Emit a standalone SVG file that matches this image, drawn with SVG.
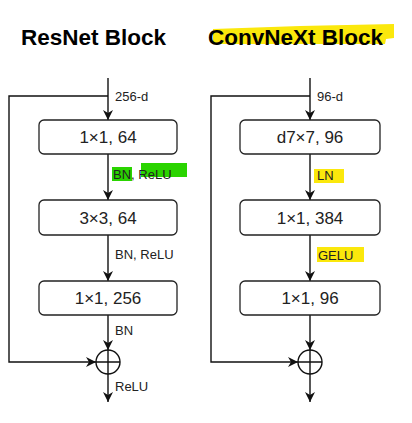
<svg xmlns="http://www.w3.org/2000/svg" width="412" height="423" viewBox="0 0 412 423">
<style>
.title{font-family:"Liberation Sans",Arial,sans-serif;font-weight:bold;font-size:22.5px;fill:#000}
.box{fill:#fff;stroke:#222;stroke-width:1.3}
.bt{font-family:"Liberation Sans",Arial,sans-serif;font-size:17px;fill:#222;text-anchor:middle;dominant-baseline:central}
.lb{font-family:"Liberation Sans",Arial,sans-serif;font-size:13px;fill:#222;dominant-baseline:central}
.ln{fill:none;stroke:#111;stroke-width:1.4}
</style>
<defs>
<marker id="arr" viewBox="0 0 10 10" refX="10" refY="5" markerWidth="10" markerHeight="10" markerUnits="userSpaceOnUse" orient="auto">
<path d="M0,0 L10,5 L0,10 L3,5 z" fill="#111"/>
</marker>
</defs>
<rect width="412" height="423" fill="#fff"/>
<g id="highlights">
<polygon points="213,29 300,26 394,24 394,38 386,39 385,44 213,44" fill="#fbe80c"/>
<rect x="112" y="167" width="20" height="14" fill="#2ad400"/>
<rect x="141" y="163" width="46" height="14" fill="#2ad400"/>
<rect x="314" y="169" width="30" height="14" fill="#fbe80c"/>
<rect x="317" y="247" width="47" height="15" fill="#fbe80c"/>
</g>
<g id="titles">
<text class="title" x="21" y="45">ResNet Block</text>
<text class="title" x="208" y="45">ConvNeXt Block</text>
</g>
<g id="connectors">
<path class="ln" d="M108,78 V120" marker-end="url(#arr)"/>
<path class="ln" d="M108,96 H9 V362 H96" marker-end="url(#arr)"/>
<path class="ln" d="M108,154 V200" marker-end="url(#arr)"/>
<path class="ln" d="M108,235 V281" marker-end="url(#arr)"/>
<path class="ln" d="M108,315 V350" marker-end="url(#arr)"/>
<path class="ln" d="M108,374 V402" marker-end="url(#arr)"/>
<path class="ln" d="M310,78 V120" marker-end="url(#arr)"/>
<path class="ln" d="M310,96 H211 V362 H298" marker-end="url(#arr)"/>
<path class="ln" d="M310,154 V200" marker-end="url(#arr)"/>
<path class="ln" d="M310,235 V281" marker-end="url(#arr)"/>
<path class="ln" d="M310,315 V350" marker-end="url(#arr)"/>
<path class="ln" d="M310,374 V402" marker-end="url(#arr)"/>
</g>
<g id="labels">
<text class="lb" x="115" y="96">256-d</text>
<text class="lb" x="113" y="174">BN, ReLU</text>
<text class="lb" x="115" y="254">BN, ReLU</text>
<text class="lb" x="115" y="330">BN</text>
<text class="lb" x="115" y="386">ReLU</text>
<text class="lb" x="317" y="96">96-d</text>
<text class="lb" x="317" y="175">LN</text>
<text class="lb" x="318" y="255">GELU</text>
</g>
<g id="r1"><rect class="box" x="39" y="120" width="138" height="34" rx="5"/><text class="bt" x="108" y="137">1×1, 64</text></g>
<g id="r2"><rect class="box" x="39" y="200" width="138" height="35" rx="5"/><text class="bt" x="108" y="218">3×3, 64</text></g>
<g id="r3"><rect class="box" x="39" y="281" width="138" height="34" rx="5"/><text class="bt" x="108" y="298">1×1, 256</text></g>
<g id="rsum"><circle class="ln" cx="108" cy="362" r="12"/><path class="ln" d="M96,362 H120 M108,350 V374"/></g>
<g id="c1"><rect class="box" x="240" y="120" width="140" height="34" rx="5"/><text class="bt" x="310" y="137">d7×7, 96</text></g>
<g id="c2"><rect class="box" x="240" y="200" width="140" height="35" rx="5"/><text class="bt" x="310" y="218">1×1, 384</text></g>
<g id="c3"><rect class="box" x="240" y="281" width="140" height="34" rx="5"/><text class="bt" x="310" y="298">1×1, 96</text></g>
<g id="csum"><circle class="ln" cx="310" cy="362" r="12"/><path class="ln" d="M298,362 H322 M310,350 V374"/></g>
</svg>
